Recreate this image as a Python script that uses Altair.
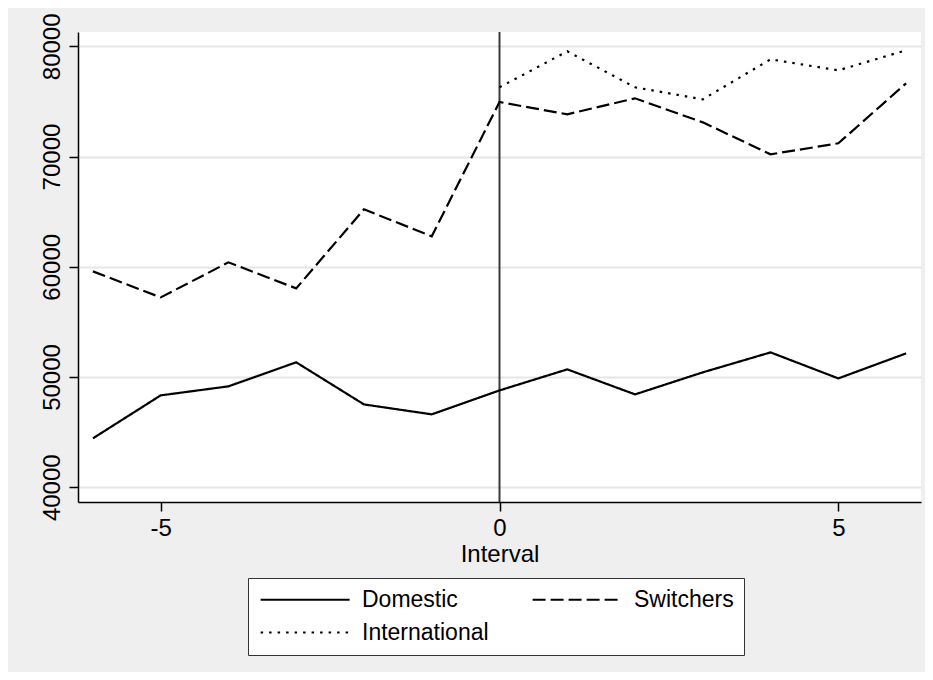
import altair as alt
import pandas as pd

intervals = [-6, -5, -4, -3, -2, -1, 0, 1, 2, 3, 4, 5, 6]
domestic = [44430, 48330, 49150, 51330, 47510, 46610, 48780, 50690, 48420, 50420, 52230, 49870, 52140]
switchers = [59580, 57220, 60400, 58040, 65210, 62760, 74945, 73830, 75280, 73100, 70200, 71200, 76640]
intl_intervals = [0, 1, 2, 3, 4, 5, 6]
international = [76280, 79546, 76280, 75190, 78820, 77820, 79640]

series_names = ["Domestic", "Switchers", "International"]
y_ticks = [40000, 50000, 60000, 70000, 80000]
x_ticks = [-5, 0, 5]

rows = []
for x, v in zip(intervals, domestic):
    rows.append({"Interval": x, "value": v, "series": "Domestic"})
for x, v in zip(intervals, switchers):
    rows.append({"Interval": x, "value": v, "series": "Switchers"})
for x, v in zip(intl_intervals, international):
    rows.append({"Interval": x, "value": v, "series": "International"})
df = pd.DataFrame(rows)

FONT = "Liberation Sans"
xscale = alt.Scale(domain=[-6.22, 6.22], nice=False, zero=False)
yscale = alt.Scale(domain=[38657, 81298], nice=False, zero=False)

lines = alt.Chart(df).mark_line(color="black", strokeWidth=2.2).encode(
    x=alt.X("Interval:Q", scale=xscale,
            axis=alt.Axis(values=x_ticks, title="Interval", grid=False,
                          labelExpr="toString(datum.value)",
                          labelPadding=5, titlePadding=2)),
    y=alt.Y("value:Q", scale=yscale,
            axis=alt.Axis(values=y_ticks, title=None, grid=True,
                          labelExpr="toString(datum.value)",
                          labelAngle=270, labelAlign="center", labelBaseline="alphabetic",
                          labelPadding=10)),
    strokeDash=alt.StrokeDash(
        "series:N",
        scale=alt.Scale(domain=series_names, range=[[1, 0], [13, 5], [2.5, 6]]),
        sort=series_names,
        legend=alt.Legend(title=None, orient="none", legendX=170, legendY=546,
                          columns=2, columnPadding=39, rowPadding=9,
                          symbolType="M-1,0H9", symbolSize=317, symbolStrokeWidth=2.2,
                          symbolStrokeColor="black", labelOffset=81,
                          labelFont=FONT, labelFontSize=23, labelColor="black",
                          strokeColor="#333333", fillColor="white", padding=10,
                          direction="horizontal"),
    ),
    detail="series:N",
)

vline = alt.Chart(pd.DataFrame({"x": [0]})).mark_rule(color="#3a3a3a", strokeWidth=2).encode(
    x=alt.X("x:Q", scale=xscale)
)

chart = alt.layer(vline, lines).properties(
    width=843,
    height=470,
    autosize=alt.AutoSizeParams(type="none"),
    padding={"left": 70, "top": 24, "right": 4, "bottom": 170},
    background="#efefef",
).configure_view(
    fill="white", stroke=None
).configure_axis(
    labelFont=FONT, labelFontSize=24, labelColor="black",
    titleFont=FONT, titleFontSize=24, titleColor="black", titleFontWeight="normal",
    domainColor="black", domainWidth=1.5, tickColor="black", tickWidth=1.5, tickSize=9,
    gridColor="#e6e6e6", gridWidth=2,
)

chart.save("out.html", embed_options={"renderer": "svg", "actions": False})
